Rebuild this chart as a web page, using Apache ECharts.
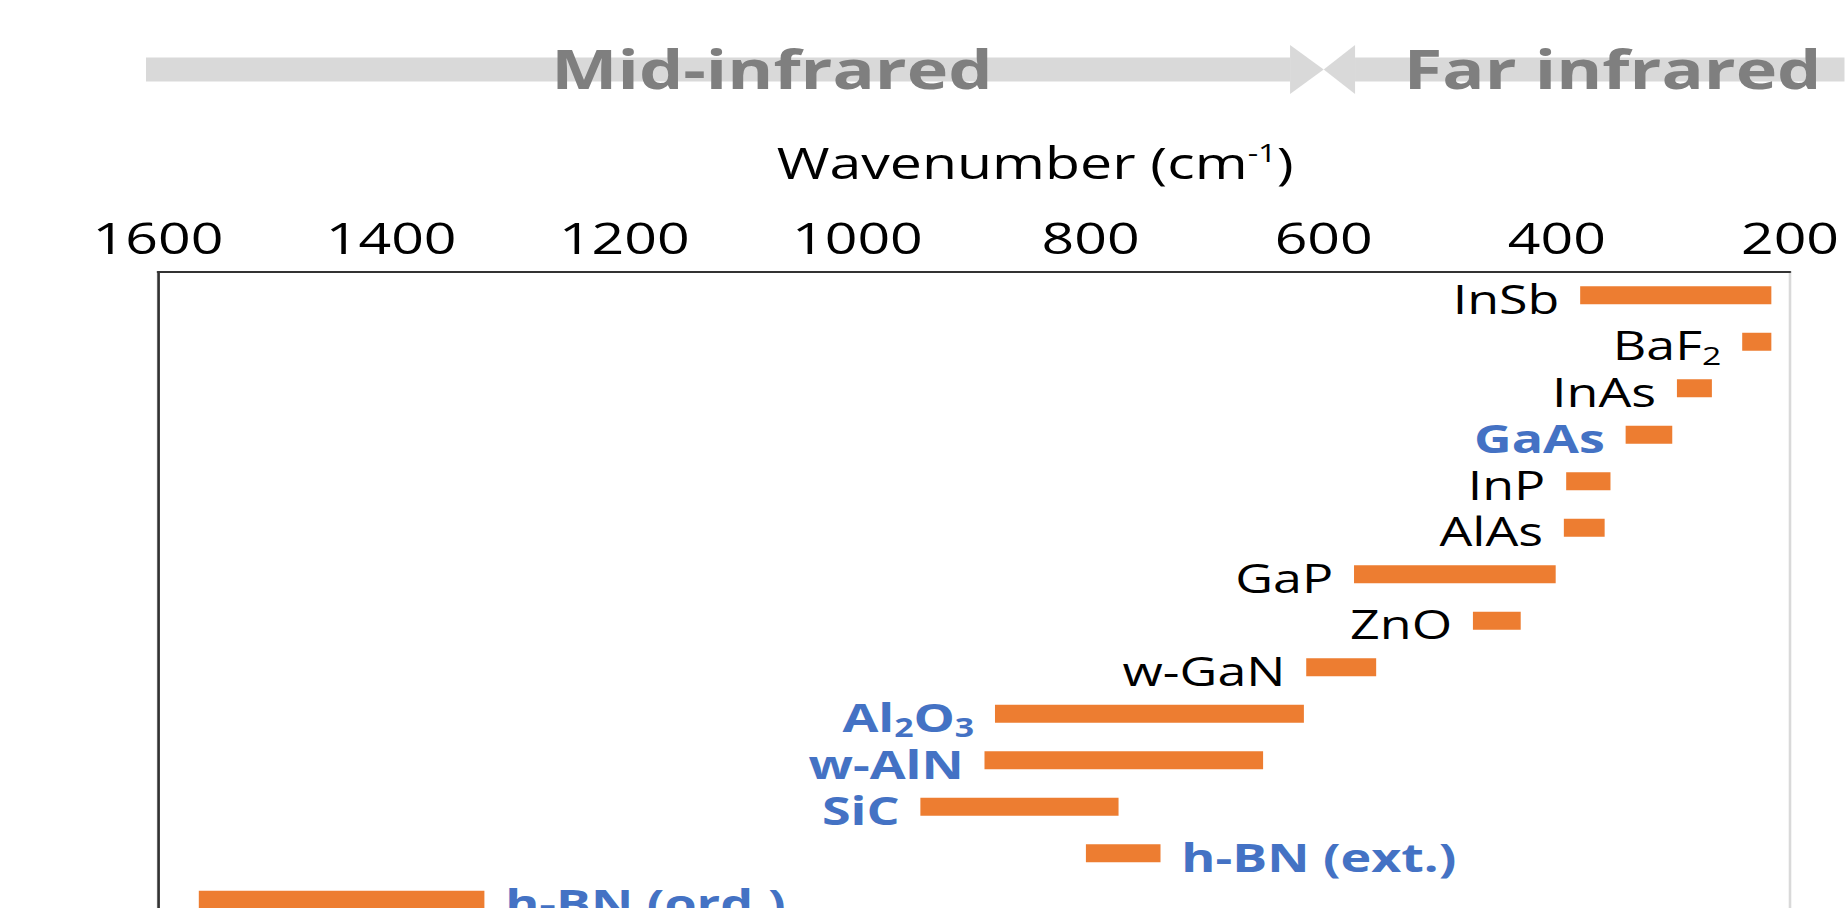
<!DOCTYPE html>
<html>
<head>
<meta charset="utf-8">
<script src="https://cdn.jsdelivr.net/npm/echarts@6/dist/echarts.min.js"></script>
<style>
  html, body { margin: 0; padding: 0; background: #ffffff; overflow: hidden; }
  /* the figure is drawn narrow and widened horizontally as a whole */
  #chart { width: 1419.23px; height: 908px; transform: scaleX(1.3); transform-origin: 0 0; }
</style>
</head>
<body>
<div id="chart"></div>
<script>
// Reststrahlen bands (cm-1) of polar crystals, lower and upper edge
const materials = ['InSb', 'BaF2', 'InAs', 'GaAs', 'InP', 'AlAs', 'GaP', 'ZnO', 'w-GaN', 'Al2O3', 'w-AlN', 'SiC', 'h-BN (ext.)', 'h-BN (ord.)'];
const bandLow  = [216, 216, 267, 301, 354, 359, 401, 431, 555, 617, 652, 776, 740, 1320];
const bandHigh = [380, 241, 297, 341, 392, 394, 574, 472, 615, 882, 891, 946, 804, 1565];
// materials printed in blue bold
const highlighted = ['GaAs', 'Al2O3', 'w-AlN', 'SiC', 'h-BN (ext.)', 'h-BN (ord.)'];
// materials whose name sits to the right of the band
const labelsOnRight = ['h-BN (ext.)', 'h-BN (ord.)'];
// wavenumber axis ticks
const tickValues = [200, 400, 600, 800, 1000, 1200, 1400, 1600];
// spectral regions and the wavenumber that separates them
const regions = ['Mid-infrared', 'Far infrared'];
const regionBoundary = 600;

const FONT = 'Open Sans';
const ORANGE = '#ED7D31';
const BLUE = '#4472C4';
const ARROW = '#D9D9D9';
const BAR_H = 18;

const chart = echarts.init(document.getElementById('chart'), null, { renderer: 'svg' });

const RICH = {
  nb: { fontFamily: FONT, fontSize: 40, lineHeight: 46, fill: '#000000', verticalAlign: 'middle' },
  ns: { fontFamily: FONT, fontSize: 26, lineHeight: 25, fill: '#000000', verticalAlign: 'bottom' },
  hb: { fontFamily: FONT, fontSize: 40, lineHeight: 46, fontWeight: 'bold', fill: BLUE, verticalAlign: 'middle' },
  hs: { fontFamily: FONT, fontSize: 26, lineHeight: 25, fontWeight: 'bold', fill: BLUE, verticalAlign: 'bottom' }
};

// chemical formula digits become subscripts
function richName(name) {
  const hi = highlighted.includes(name);
  const base = hi ? 'hb' : 'nb';
  const sub = hi ? 'hs' : 'ns';
  return name.replace(/(\D+)|(\d+)/g, (m, t, d) => t ? '{' + base + '|' + t + '}' : '{' + sub + '|' + d + '}');
}

function renderBand(params, api) {
  const row = api.value(0);
  const p0 = api.coord([api.value(1), row]);
  const p1 = api.coord([api.value(2), row]);
  const name = materials[row];
  const right = labelsOnRight.includes(name);
  return {
    type: 'rect',
    shape: {
      x: Math.min(p0[0], p1[0]),
      y: p0[1] - BAR_H / 2,
      width: Math.abs(p1[0] - p0[0]),
      height: BAR_H
    },
    style: { fill: ORANGE },
    textContent: { style: { text: richName(name), rich: RICH } },
    textConfig: { position: right ? 'right' : 'left', distance: 16, offset: [0, 3] }
  };
}

chart.setOption({
  animation: false,
  backgroundColor: '#ffffff',
  grid: {
    left: 121.54, top: 272, width: 1255.38, height: 651,
    show: true, borderColor: ARROW, borderWidth: 2,
    containLabel: false, outerBoundsMode: 'none'
  },
  xAxis: {
    type: 'value',
    position: 'top',
    inverse: true,
    min: tickValues[0],
    max: tickValues[tickValues.length - 1],
    interval: tickValues[1] - tickValues[0],
    axisLine: { show: true, lineStyle: { color: '#333333', width: 2 } },
    axisTick: { show: false },
    splitLine: { show: false },
    axisLabel: {
      margin: 13, fontFamily: FONT, fontSize: 44, lineHeight: 44, color: '#000000',
      formatter: (v) => String(v)
    },
    name: '{t|Wavenumber (cm}{s|-1}{t|)}',
    nameLocation: 'middle',
    nameGap: 88,
    nameTextStyle: {
      padding: [0, 0, 0, 94],
      rich: {
        t: { fontFamily: FONT, fontSize: 44, lineHeight: 44, color: '#000000' },
        s: { fontFamily: FONT, fontSize: 25, lineHeight: 35, color: '#000000', verticalAlign: 'top' }
      }
    }
  },
  yAxis: {
    type: 'category',
    inverse: true,
    data: materials,
    axisLine: { show: true, lineStyle: { color: '#333333', width: 2 } },
    axisTick: { show: false },
    axisLabel: { show: false },
    splitLine: { show: false }
  },
  series: [{
    type: 'custom',
    renderItem: renderBand,
    encode: { x: [1, 2], y: 0 },
    clip: false,
    data: materials.map((m, i) => [i, bandLow[i], bandHigh[i]])
  }]
});

// region arrows above the axis, meeting at the boundary wavenumber
function drawRegions() {
  const bx = chart.convertToPixel({ xAxisIndex: 0 }, regionBoundary);
  const W = chart.getWidth();
  const yc = 69.5, shaftHalf = 12, headHalf = 24.5;
  const headL = 25.9, headR = 24.1, start = 112.3;
  const textStyle = {
    fill: '#7F7F7F', font: 'bold 54px "Open Sans"',
    align: 'center', textAlign: 'center', verticalAlign: 'middle', textVerticalAlign: 'middle'
  };
  chart.setOption({
    graphic: { elements: [
      { type: 'rect', silent: true, shape: { x: start, y: yc - shaftHalf, width: bx - headL - start, height: 2 * shaftHalf }, style: { fill: ARROW } },
      { type: 'polygon', silent: true, shape: { points: [[bx - headL, yc - headHalf], [bx, yc], [bx - headL, yc + headHalf]] }, style: { fill: ARROW } },
      { type: 'polygon', silent: true, shape: { points: [[bx + headR, yc - headHalf], [bx, yc], [bx + headR, yc + headHalf]] }, style: { fill: ARROW } },
      { type: 'rect', silent: true, shape: { x: bx + headR, y: yc - shaftHalf, width: W - bx - headR, height: 2 * shaftHalf }, style: { fill: ARROW } },
      { type: 'text', silent: true, x: 593.8, y: 68, z: 10, style: Object.assign({ text: regions[0] }, textStyle) },
      { type: 'text', silent: true, x: 1240.5, y: 68, z: 10, style: Object.assign({ text: regions[1] }, textStyle) }
    ] }
  });
}
drawRegions();
</script>
</body>
</html>
